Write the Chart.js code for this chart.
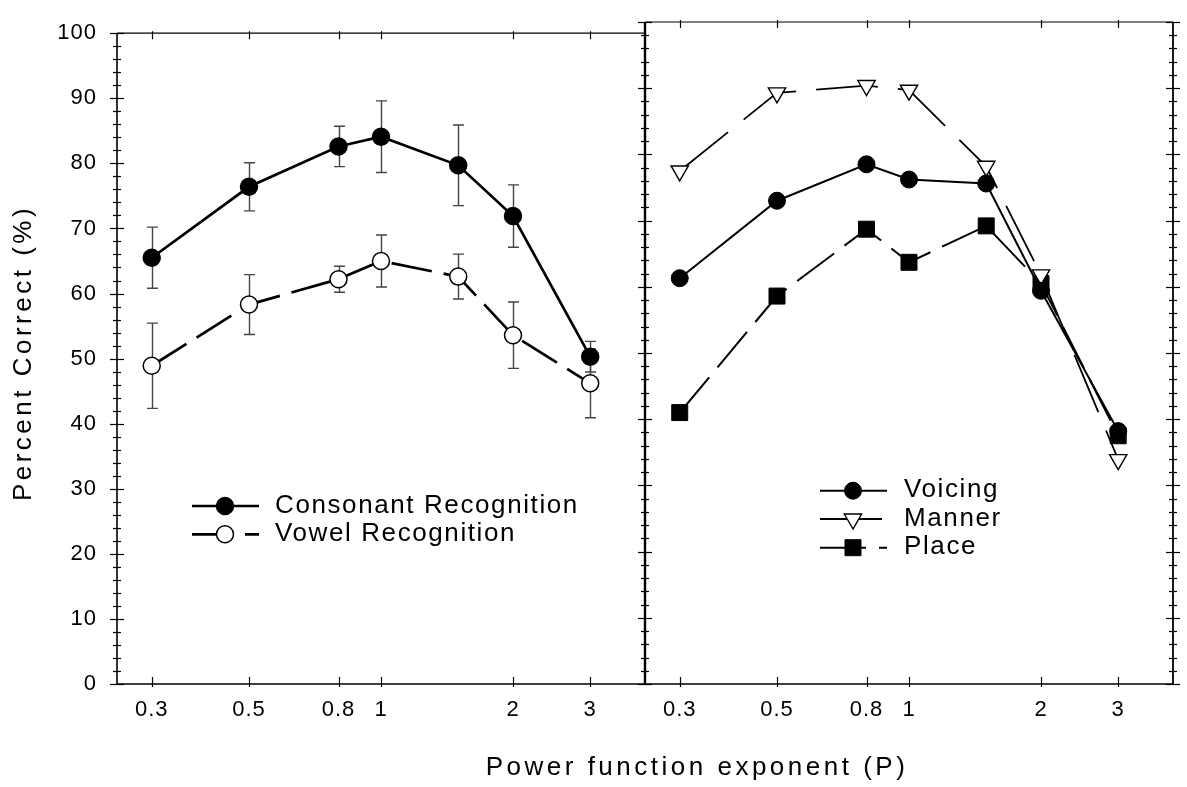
<!DOCTYPE html>
<html>
<head>
<meta charset="utf-8">
<script src="https://cdn.jsdelivr.net/npm/chart.js@4.4.0/dist/chart.umd.min.js"></script>
<style>
  html, body { margin: 0; padding: 0; background: #fff; }
  #wrap { position: relative; width: 1187px; height: 787px; }
  #wrap canvas { position: absolute; left: 0; top: 0; }
</style>
</head>
<body>
<div id="wrap">
  <canvas id="leftChart" width="1187" height="787"></canvas>
  <canvas id="rightChart" width="1187" height="787"></canvas>
</div>
<script>
// --- data ---
const exponents = [0.3, 0.5, 0.8, 1, 1.5, 2, 3];
const xTickValues = [0.3, 0.5, 0.8, 1, 2, 3];

const consonant = [65.5, 76.4, 82.6, 84.1, 79.7, 71.9, 50.3];
const consonantErr = [4.7, 3.7, 3.1, 5.5, 6.2, 4.8, 2.35];
const vowel = [48.9, 58.3, 62.2, 65.0, 62.6, 53.6, 46.2];
const vowelErr = [6.55, 4.6, 2.0, 4.0, 3.45, 5.1, 5.3];

const voicing = [61.3, 73.0, 78.5, 76.2, 75.6, 59.4, 38.2];
const manner = [77.5, 89.3, 90.4, 89.7, 78.2, 61.8, 33.9];
const place = [41.0, 58.6, 68.7, 63.7, 69.2, 60.5, 37.5];

const FONT = "'Liberation Sans', Arial, Helvetica, sans-serif";
const pts = arr => exponents.map((x, i) => ({ x: x, y: arr[i] }));

// small marker painter (used for the legend samples)
function drawMarker(ctx, ds, x, y) {
    const r = ds.pointRadius;
    ctx.save();
    ctx.setLineDash([]);
    ctx.fillStyle = ds.pointBackgroundColor;
    ctx.strokeStyle = ds.pointBorderColor;
    ctx.lineWidth = ds.pointBorderWidth;
    ctx.beginPath();
    if (ds.pointStyle === 'rect') {
        const s = r * Math.SQRT1_2;
        ctx.rect(x - s, y - s, 2 * s, 2 * s);
    } else if (ds.pointStyle === 'triangle') {
        let rad = (ds.pointRotation || 0) * Math.PI / 180;
        ctx.moveTo(x + Math.sin(rad) * r, y - Math.cos(rad) * r);
        rad += 2 * Math.PI / 3;
        ctx.lineTo(x + Math.sin(rad) * r, y - Math.cos(rad) * r);
        rad += 2 * Math.PI / 3;
        ctx.lineTo(x + Math.sin(rad) * r, y - Math.cos(rad) * r);
        ctx.closePath();
    } else {
        ctx.arc(x, y, r, 0, Math.PI * 2);
    }
    ctx.fill();
    ctx.stroke();
    ctx.restore();
}

// slightly wider tracking for the tick labels
const tracking = {
    id: 'tracking',
    beforeDraw(chart) { chart.ctx.letterSpacing = '1px'; }
};

// frame + tick marks crossing the axes
const panelFrame = {
    id: 'panelFrame',
    afterDraw(chart, args, opts) {
        const { ctx, chartArea: a } = chart;
        const x = chart.scales.x, y = chart.scales.y;
        const seg = (x1, y1, x2, y2, w) => {
            ctx.lineWidth = w;
            ctx.beginPath(); ctx.moveTo(x1, y1); ctx.lineTo(x2, y2); ctx.stroke();
        };
        ctx.save();
        ctx.strokeStyle = '#000';
        seg(a.left, a.top, a.right, a.top, 1.2);
        seg(a.left, a.bottom, a.right, a.bottom, 1.6);
        const sides = [];
        if (opts.left) sides.push([a.left, opts.leftWidth]);
        if (opts.right) sides.push([a.right, opts.rightWidth]);
        sides.forEach(([px, w]) => {
            seg(px, a.top, px, a.bottom, w);
            for (let v = y.min; v <= y.max; v += 2) {
                const py = Math.round(y.getPixelForValue(v)) + 0.5;
                const major = v % 10 === 0;
                seg(px - (major ? 7 : 4), py, px + (major ? 7 : 4), py, 1.2);
            }
        });
        xTickValues.forEach(v => {
            const px = Math.round(x.getPixelForValue(v)) + 0.5;
            seg(px, a.bottom - 7, px, a.bottom + 3, 1.2);
            seg(px, a.top - 2, px, a.top + 6, 1.2);
        });
        ctx.restore();
    }
};

// vertical error bars, drawn under lines and markers
const errorBars = {
    id: 'errorBars',
    beforeDatasetsDraw(chart) {
        const { ctx } = chart;
        const x = chart.scales.x, y = chart.scales.y;
        chart.data.datasets.forEach(ds => {
            if (!ds.errors) return;
            ctx.save();
            ctx.strokeStyle = '#444';
            ctx.lineWidth = 1.4;
            ds.data.forEach((p, i) => {
                const px = Math.round(x.getPixelForValue(p.x)) + 0.5;
                const top = y.getPixelForValue(p.y + ds.errors[i]);
                const bot = y.getPixelForValue(p.y - ds.errors[i]);
                ctx.beginPath();
                ctx.moveTo(px, top); ctx.lineTo(px, bot);
                ctx.moveTo(px - 5.5, top); ctx.lineTo(px + 5.5, top);
                ctx.moveTo(px - 5.5, bot); ctx.lineTo(px + 5.5, bot);
                ctx.stroke();
            });
            ctx.restore();
        });
    }
};

// legend: line sample + marker + text, placed inside the panel
const sampleLegend = {
    id: 'sampleLegend',
    afterDatasetsDraw(chart, args, opts) {
        const { ctx } = chart;
        chart.data.datasets.forEach((ds, i) => {
            const ry = opts.rows[i];
            ctx.save();
            ctx.strokeStyle = '#000';
            ctx.lineWidth = ds.borderWidth;
            ctx.setLineDash(ds.borderDash || []);
            ctx.beginPath();
            ctx.moveTo(opts.x0, ry);
            ctx.lineTo(opts.x1, ry);
            ctx.stroke();
            ctx.restore();
            drawMarker(ctx, ds, opts.xm, ry);
            ctx.save();
            ctx.fillStyle = '#000';
            ctx.font = '26px ' + FONT;
            ctx.letterSpacing = '1.6px';
            ctx.textAlign = 'left';
            ctx.textBaseline = 'alphabetic';
            ctx.fillText(ds.label, opts.xText, ry + 6.5);
            ctx.restore();
        });
    }
};

// shared axis titles
const axisTitles = {
    id: 'axisTitles',
    afterDraw(chart) {
        const { ctx } = chart;
        ctx.save();
        ctx.fillStyle = '#000';
        ctx.font = '26px ' + FONT;
        ctx.letterSpacing = '3.5px';
        ctx.textAlign = 'center';
        ctx.textBaseline = 'alphabetic';
        ctx.fillText('Power function exponent (P)', 697, 775);
        ctx.translate(31, 353);
        ctx.rotate(-Math.PI / 2);
        ctx.fillText('Percent Correct (%)', 0, 0);
        ctx.restore();
    }
};

function xScale(showLabels) {
    return {
        type: 'logarithmic',
        position: 'bottom',
        min: 0.25,
        max: 4,
        bounds: 'data',
        afterBuildTicks: s => { s.ticks = xTickValues.map(v => ({ value: v })); },
        afterFit: s => { s.height = 103; },
        grid: { display: false, drawTicks: false },
        border: { display: false },
        ticks: {
            display: showLabels,
            autoSkip: false,
            maxRotation: 0,
            padding: 13,
            color: '#000',
            font: { family: FONT, size: 22 },
            callback: v => String(v)
        }
    };
}

const lineBase = { tension: 0, borderColor: '#000', pointBorderColor: '#000', pointHoverRadius: 0 };

// 1. left panel: consonant / vowel recognition
new Chart(document.getElementById('leftChart'), {
    type: 'line',
    data: {
        datasets: [
            Object.assign({}, lineBase, {
                label: 'Consonant Recognition',
                data: pts(consonant),
                errors: consonantErr,
                borderWidth: 2.7,
                pointStyle: 'circle', pointRadius: 8.5,
                pointBackgroundColor: '#000', pointBorderWidth: 1.5
            }),
            Object.assign({}, lineBase, {
                label: 'Vowel Recognition',
                data: pts(vowel),
                errors: vowelErr,
                borderWidth: 2.7,
                borderDash: [41, 12],
                pointStyle: 'circle', pointRadius: 8.5,
                pointBackgroundColor: '#fff', pointBorderWidth: 1.5
            })
        ]
    },
    options: {
        responsive: false,
        animation: false,
        events: [],
        layout: { padding: { top: 22, right: 542, left: 0, bottom: 0 } },
        scales: {
            x: xScale(true),
            y: {
                position: 'left',
                min: 0, max: 100,
                afterFit: s => { s.width = 117; },
                grid: { display: false, drawTicks: false },
                border: { display: false },
                ticks: { stepSize: 10, padding: 20, color: '#000', font: { family: FONT, size: 22 } }
            }
        },
        plugins: {
            legend: { display: false },
            tooltip: { enabled: false },
            panelFrame: { left: true, leftWidth: 1.6, right: false },
            sampleLegend: { x0: 192, x1: 259, xm: 225, xText: 275, rows: [506, 534.3] }
        }
    },
    plugins: [tracking, errorBars, panelFrame, sampleLegend, axisTitles]
});

// 2. right panel: voicing / manner / place
new Chart(document.getElementById('rightChart'), {
    type: 'line',
    data: {
        datasets: [
            Object.assign({}, lineBase, {
                label: 'Voicing',
                data: pts(voicing),
                borderWidth: 2,
                pointStyle: 'circle', pointRadius: 8.5,
                pointBackgroundColor: '#000', pointBorderWidth: 1
            }),
            Object.assign({}, lineBase, {
                label: 'Manner',
                data: pts(manner),
                borderWidth: 1.8,
                borderDash: [62, 20],
                pointStyle: 'triangle', pointRotation: 180, pointRadius: 10,
                pointBackgroundColor: '#fff', pointBorderWidth: 1.4
            }),
            Object.assign({}, lineBase, {
                label: 'Place',
                data: pts(place),
                borderWidth: 2,
                borderDash: [46, 13],
                pointStyle: 'rect', pointRadius: 11.3,
                pointBackgroundColor: '#000', pointBorderWidth: 1
            })
        ]
    },
    options: {
        responsive: false,
        animation: false,
        events: [],
        layout: { padding: { top: 22, right: 0, left: 645, bottom: 0 } },
        scales: {
            x: xScale(true),
            y: {
                position: 'right',
                min: 0, max: 100,
                afterFit: s => { s.width = 14; },
                grid: { display: false, drawTicks: false },
                border: { display: false },
                ticks: { display: false, stepSize: 10 }
            }
        },
        plugins: {
            legend: { display: false },
            tooltip: { enabled: false },
            panelFrame: { left: true, leftWidth: 2.4, right: true, rightWidth: 1.8 },
            sampleLegend: { x0: 820, x1: 887, xm: 853, xText: 904, rows: [490.7, 519, 547.7] }
        }
    },
    plugins: [tracking, panelFrame, sampleLegend]
});
</script>
</body>
</html>
